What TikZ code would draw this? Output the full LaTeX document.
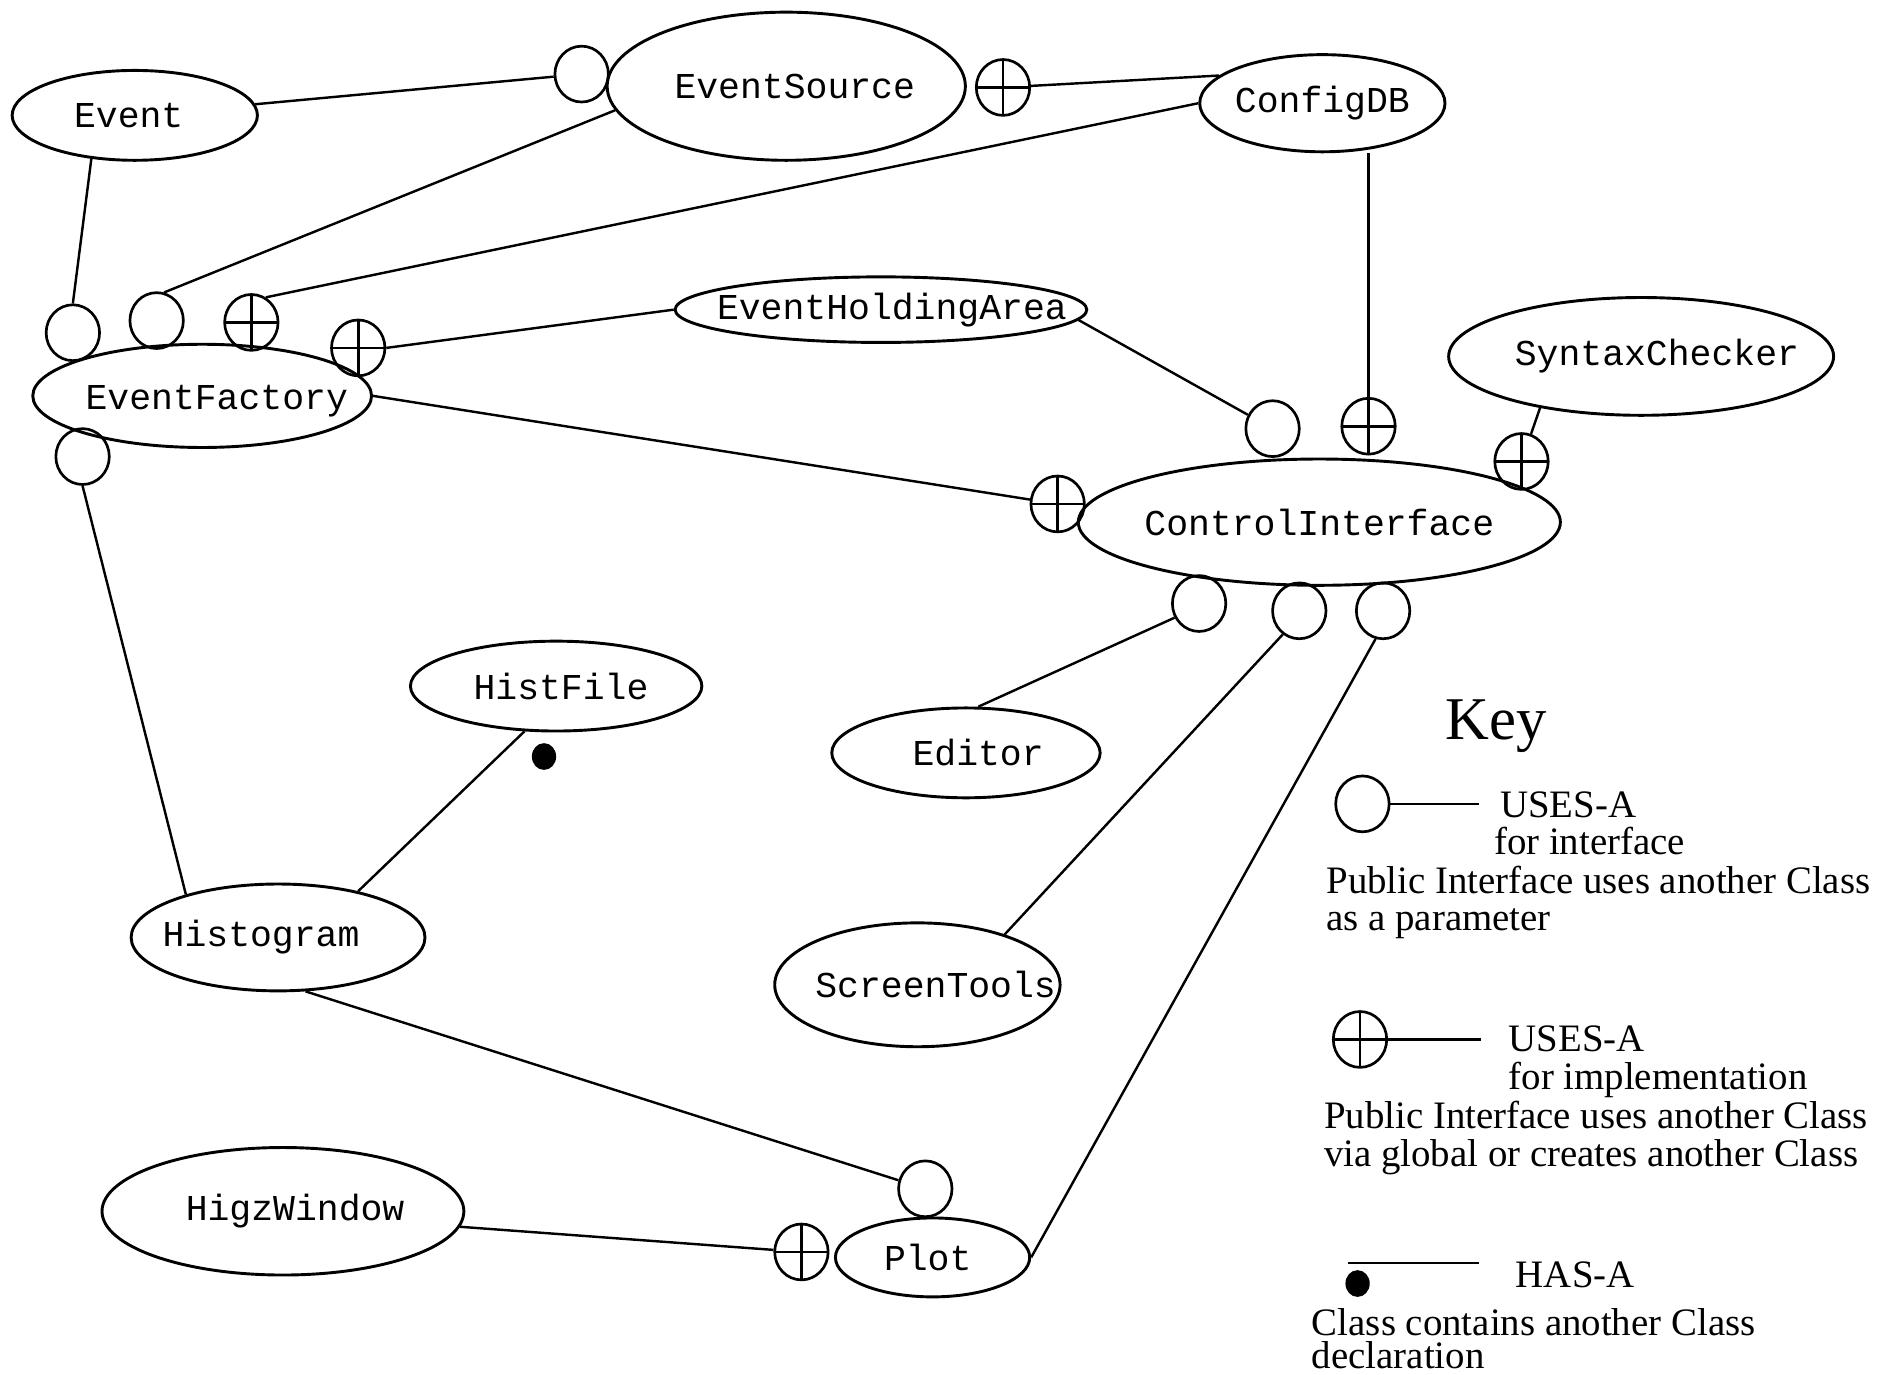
\documentclass[tikz,border=0pt]{standalone}
\usepackage{fontspec}
\setmainfont{Liberation Serif}
\setmonofont{Liberation Mono}
\usetikzlibrary{shapes.geometric}

% class name, optional sideways shift of the text inside its ellipse
\newcommand{\cname}[2][0pt]{\makebox[0pt]{\hspace*{#1}#2}}

\begin{document}
\begin{tikzpicture}[x=0.5pt,y=0.5pt,yscale=-1,xscale=1,
  cls/.style={draw, ellipse, line width=1.2pt, inner sep=0pt, font=\ttfamily\fontsize{15}{15}\selectfont},
  uses/.style={draw, ellipse, line width=1.1pt, inner sep=0pt, minimum width=22pt, minimum height=23pt},
  impl/.style={uses, path picture={\draw[line width=1.1pt] (path picture bounding box.north) -- (path picture bounding box.south) (path picture bounding box.west) -- (path picture bounding box.east);}},
  has/.style={fill, ellipse, inner sep=0pt, minimum width=10pt, minimum height=11pt},
  link/.style={line width=1pt},
  keytext/.style={anchor=base west, inner sep=0pt, font=\fontsize{16}{16}\selectfont}
]
\useasboundingbox (0,0) rectangle (1568,1132);

%Shape: Ellipse [classes]
\node[cls, minimum width=101pt, minimum height=37pt] (Event) at (111,95) {\cname[-5pt]{Event}};
\node[cls, minimum width=147.5pt, minimum height=61pt] (EventSource) at (647.5,71) {\cname[7pt]{EventSource}};
\node[cls, minimum width=101pt, minimum height=40pt] (ConfigDB) at (1089,85) {\cname{ConfigDB}};
\node[cls, minimum width=169.5pt, minimum height=27pt] (EventHoldingArea) at (725.5,255) {\cname[9pt]{EventHoldingArea}};
\node[cls, minimum width=158.5pt, minimum height=48.5pt] (SyntaxChecker) at (1351.5,293.5) {\cname[13pt]{SyntaxChecker}};
\node[cls, minimum width=139.5pt, minimum height=42.5pt] (EventFactory) at (166.5,326) {\cname[12pt]{\raisebox{-5.5pt}[0pt][0pt]{EventFactory}}};
\node[cls, minimum width=198.5pt, minimum height=52pt] (ControlInterface) at (1086.5,430) {\cname{ControlInterface}};
\node[cls, minimum width=120pt, minimum height=37pt] (HistFile) at (458,565) {\cname[4pt]{HistFile}};
\node[cls, minimum width=110.5pt, minimum height=37pt] (Editor) at (795.5,620) {\cname[10pt]{Editor}};
\node[cls, minimum width=121pt, minimum height=44pt] (Histogram) at (229,772) {\cname[-14pt]{Histogram}};
\node[cls, minimum width=117.5pt, minimum height=51pt] (ScreenTools) at (755.5,811) {\cname[15pt]{ScreenTools}};
\node[cls, minimum width=149pt, minimum height=52.5pt] (HigzWindow) at (233,997.5) {\cname[10pt]{HigzWindow}};
\node[cls, minimum width=80pt, minimum height=32.5pt] (Plot) at (768,1035.5) {\cname[-4pt]{Plot}};

%Shape: Circle [uses-a markers]
\node[uses] (uES) at (479,61) {};
\node[impl] (pES) at (826,72) {};
\node[uses] (uEF1) at (60,274) {};
\node[uses] (uEF2) at (129,264) {};
\node[impl] (pEF3) at (207,265.5) {};
\node[impl] (pEF4) at (295,286.5) {};
\node[uses] (uEF5) at (68,376) {};
\node[uses] (uCI1) at (1048,353) {};
\node[impl] (pCI2) at (1127,351) {};
\node[impl] (pCI3) at (1253,380) {};
\node[impl] (pCI0) at (871,415) {};
\node[uses] (uCI4) at (987.5,497) {};
\node[uses] (uCI5) at (1070,503) {};
\node[uses] (uCI6) at (1139,503) {};
\node[uses] (uPl) at (762,979) {};
\node[impl] (pPl) at (660,1031) {};
%Shape: Dot [has-a marker]
\node[has] (hHF) at (448,623) {};

%Straight Lines
\draw[link] (Event) -- (uES);
\draw[link] (Event.225) -- (uEF1.north);
\draw[link] (EventSource.188) -- (uEF2.75);
\draw[link] (pES) -- (ConfigDB.165);
\draw[link] (ConfigDB.west) -- (pEF3.60);
\draw[link] (pEF4.east) -- (EventHoldingArea.west);
\draw[link] (EventHoldingArea.-3) -- (uCI1);
\draw[link] (pCI2) -- (pCI2 |- ConfigDB.south);
\draw[link] (SyntaxChecker.207) -- (pCI3);
\draw[link] (EventFactory.east) -- (pCI0);
\draw[link] (uCI4.210) -- (Editor.75);
\draw[link] (uCI5.235) -- (ScreenTools.30);
\draw[link] (uCI6.255) -- (Plot.east);
\draw[link] (uEF5.south) -- (Histogram.155);
\draw[link] (HistFile.235) -- (Histogram.30);
\draw[link] (Histogram.-63) -- (uPl);
\draw[link] (HigzWindow.-5) -- (pPl);

% Key
\node[font=\fontsize{25}{25}\selectfont, inner sep=0pt] (key) at (1232,598) {Key};

\node[uses] (keyUses) at (1122,662) {};
\coordinate (keyUsesEnd) at (1218,662);
\draw[link] (keyUses) -- (keyUsesEnd);
\node[keytext] (keyUsesA) at (1235,673) {USES-A};
\node[keytext] (keyUsesB) at (1230,704) {for interface};
\node[keytext] (keyUsesC) at (1092,736) {Public Interface uses another Class};
\node[keytext] (keyUsesD) at (1092,766) {as a parameter};

\node[impl] (keyImpl) at (1120,856) {};
\coordinate (keyImplEnd) at (1220,856);
\draw[link] (keyImpl) -- (keyImplEnd);
\node[keytext] (keyImplA) at (1242,866) {USES-A};
\node[keytext] (keyImplB) at (1242,897) {for implementation};
\node[keytext] (keyImplC) at (1090,929) {Public Interface uses another Class};
\node[keytext] (keyImplD) at (1090,961) {via global or creates another Class};

\coordinate (keyHasL) at (1110,1040);
\coordinate (keyHasR) at (1218,1040);
\draw[link] (keyHasL) -- (keyHasR);
\node[has] (keyDot) at (1118,1057) {};
\node[keytext] (keyHasA) at (1248,1060) {HAS-A};
\node[keytext, anchor=north west, align=left, font=\fontsize{16}{13.5}\selectfont] (keyHasB) at (1080,1077) {Class contains another Class\\declaration};

\end{tikzpicture}
\end{document}
